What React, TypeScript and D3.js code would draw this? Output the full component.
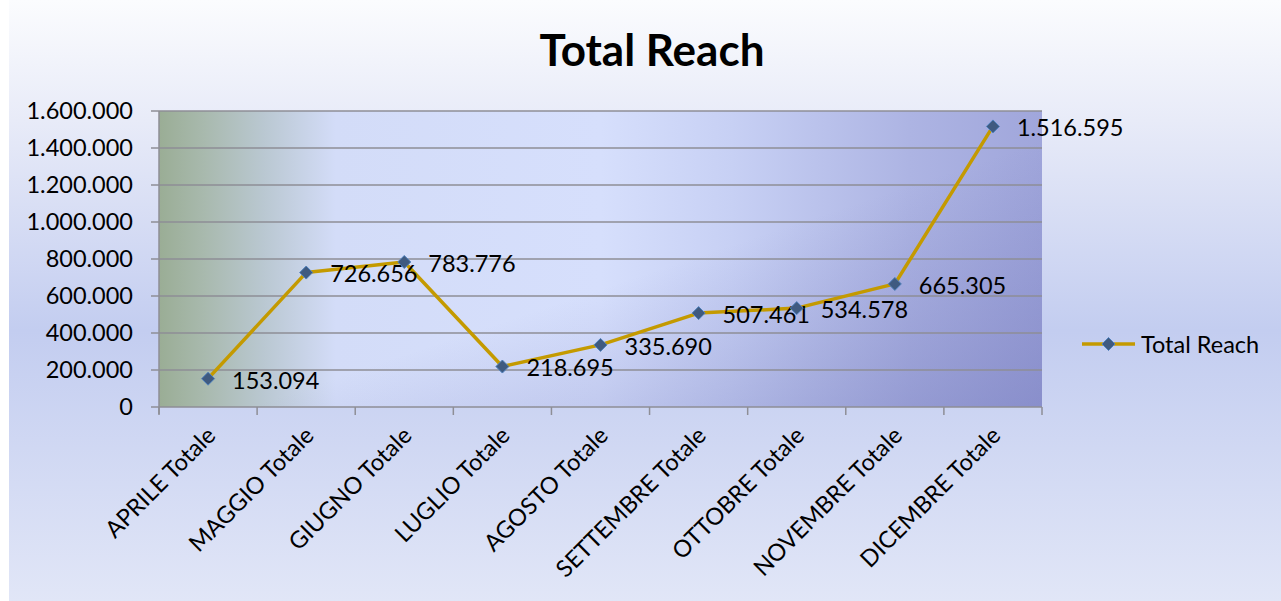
import React from "react";
import * as d3 from "d3";

const categories = [
  "APRILE Totale",
  "MAGGIO Totale",
  "GIUGNO Totale",
  "LUGLIO Totale",
  "AGOSTO Totale",
  "SETTEMBRE Totale",
  "OTTOBRE Totale",
  "NOVEMBRE Totale",
  "DICEMBRE Totale",
];
const values = [153094, 726656, 783776, 218695, 335690, 507461, 534578, 665305, 1516595];
const yTicks = [0, 200000, 400000, 600000, 800000, 1000000, 1200000, 1400000, 1600000];
const seriesName = "Total Reach";
const title = "Total Reach";

const W = 1281;
const H = 601;
const plot = { left: 159, right: 1042, top: 111, bottom: 407 };
const FONT = "Lato, 'Open Sans', sans-serif";
const FS = 23.5;

const fmt = (v: number) => d3.format(",")(v).replace(/,/g, ".");

export default function App() {
  const x = d3
    .scaleBand<string>()
    .domain(categories)
    .range([plot.left, plot.right])
    .paddingInner(0)
    .paddingOuter(0);
  const y = d3.scaleLinear().domain([0, 1600000]).range([plot.bottom, plot.top]);
  const cx = (c: string) => (x(c) as number) + x.bandwidth() / 2;

  const line = d3
    .line<number>()
    .x((_, i) => cx(categories[i]))
    .y((d) => y(d));

  const diamond = (px: number, py: number, r: number) =>
    `M${px},${py - r}L${px + r},${py}L${px},${py + r}L${px - r},${py}Z`;

  const boundaries = categories.map((c) => x(c) as number).concat([plot.right]);

  return (
    <svg
      width={W}
      height={H}
      style={{ position: "absolute", left: 0, top: 0, display: "block" }}
      fontFamily={FONT}
    >
      <defs>
        <linearGradient id="bg" x1="0" y1="0" x2="0" y2="1">
          <stop offset="0" stopColor="#fbfcfe" />
          <stop offset="0.2" stopColor="#e8ebf8" />
          <stop offset="0.55" stopColor="#c3cdf0" />
          <stop offset="1" stopColor="#e1e6f7" />
        </linearGradient>
        <linearGradient id="pa" x1="0" y1="0" x2="1" y2="0">
          <stop offset="0" stopColor="#9aad95" />
          <stop offset="0.05" stopColor="#a8b9ad" />
          <stop offset="0.12" stopColor="#bac8d2" />
          <stop offset="0.2" stopColor="#d3dcf8" />
          <stop offset="0.5" stopColor="#d6dffc" />
          <stop offset="0.65" stopColor="#c7d0f4" />
          <stop offset="0.85" stopColor="#adb4e3" />
          <stop offset="1" stopColor="#a0a6db" />
        </linearGradient>
        <linearGradient id="pa2" x1="0" y1="0" x2="1" y2="1">
          <stop offset="0" stopColor="#6d72b8" stopOpacity="0" />
          <stop offset="0.55" stopColor="#6d72b8" stopOpacity="0" />
          <stop offset="1" stopColor="#6d72b8" stopOpacity="0.45" />
        </linearGradient>
      </defs>

      <rect x={0} y={0} width={W} height={H} fill="#ffffff" />
      <rect x={9} y={0} width={W - 9} height={H} fill="url(#bg)" />

      <text
        x={652}
        y={66}
        textAnchor="middle"
        fontSize={44}
        fontWeight="bold"
        fill="#000"
      >
        {title}
      </text>

      <rect
        x={plot.left}
        y={plot.top}
        width={plot.right - plot.left}
        height={plot.bottom - plot.top}
        fill="url(#pa)"
      />
      <rect
        x={plot.left}
        y={plot.top}
        width={plot.right - plot.left}
        height={plot.bottom - plot.top}
        fill="url(#pa2)"
      />

      {/* gridlines + y ticks */}
      {yTicks.map((t) => (
        <g key={t}>
          <line
            x1={plot.left - 8}
            x2={plot.right}
            y1={y(t)}
            y2={y(t)}
            stroke="#8e8e96"
            strokeWidth={1.5}
          />
          <text
            x={133}
            y={y(t)}
            dy="0.36em"
            textAnchor="end"
            fontSize={FS}
            fill="#000"
          >
            {fmt(t)}
          </text>
        </g>
      ))}

      {/* axes */}
      <line x1={plot.left} x2={plot.left} y1={plot.top} y2={plot.bottom + 7} stroke="#8e8e96" strokeWidth={1.5} />
      {boundaries.map((b, i) => (
        <line key={i} x1={b} x2={b} y1={plot.bottom} y2={plot.bottom + 8} stroke="#8e8e96" strokeWidth={1.5} />
      ))}

      {/* x labels */}
      {categories.map((c) => (
        <text
          key={c}
          transform={`translate(${cx(c) + 9},${plot.bottom + 30}) rotate(-45)`}
          textAnchor="end"
          fontSize={FS}
          fill="#000"
        >
          {c}
        </text>
      ))}

      {/* line */}
      <path d={line(values) || ""} fill="none" stroke="#c49a00" strokeWidth={3.5} strokeLinejoin="round" />

      {values.map((v, i) => (
        <g key={i}>
          <path
            d={diamond(cx(categories[i]), y(v), 6.5)}
            fill="#3f5a80"
            stroke="#4f81bd"
            strokeWidth={1}
          />
          <text
            x={cx(categories[i]) + 24}
            y={y(v)}
            dy="0.42em"
            fontSize={FS}
            fill="#000"
          >
            {fmt(v)}
          </text>
        </g>
      ))}

      {/* legend */}
      <g>
        <line x1={1082} x2={1135} y1={344} y2={344} stroke="#c49a00" strokeWidth={3.5} />
        <path d={diamond(1108.5, 344, 6.5)} fill="#3f5a80" stroke="#4f81bd" strokeWidth={1} />
        <text x={1141} y={344} dy="0.38em" fontSize={FS} fill="#000">
          {seriesName}
        </text>
      </g>
    </svg>
  );
}
